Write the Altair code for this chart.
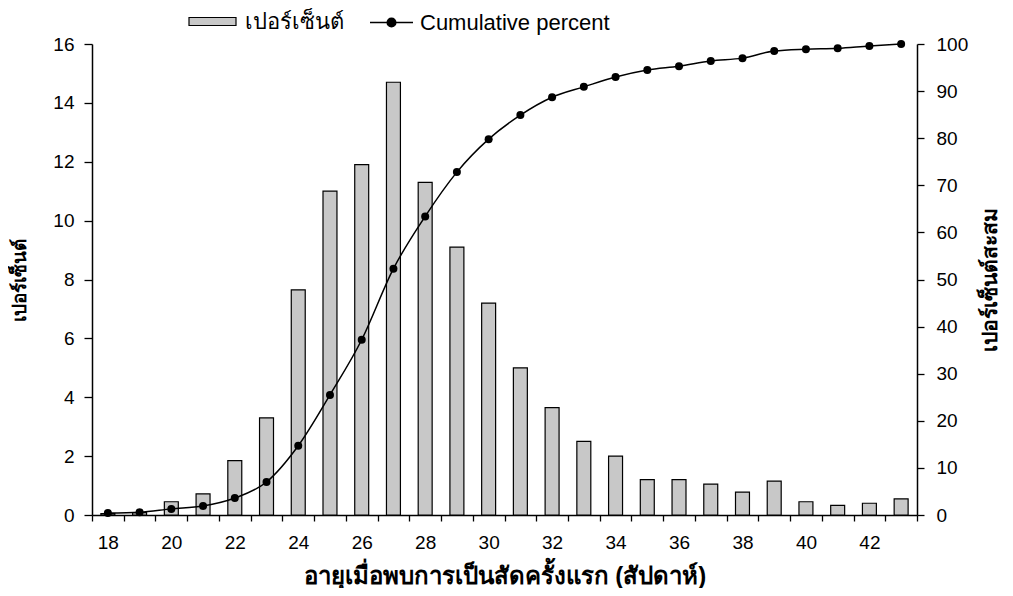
import altair as alt
import pandas as pd

ages = list(range(18, 44))
percent = [0.05, 0.08, 0.45, 0.72, 1.85, 3.3, 7.65, 11.0, 11.9, 14.7, 11.3, 9.1, 7.2, 5.0,
           3.65, 2.5, 2.0, 1.2, 1.2, 1.05, 0.78, 1.15, 0.45, 0.33, 0.4, 0.55]
cumulative = [0.4, 0.6, 1.3, 1.9, 3.6, 7.0, 14.7, 25.5, 37.2, 52.3, 63.4, 72.8, 79.8, 84.9,
              88.7, 90.9, 93.0, 94.5, 95.3, 96.4, 97.0, 98.5, 98.9, 99.1, 99.6, 100.0]
bar_name = "เปอร์เซ็นต์"
line_name = "Cumulative percent"

df = pd.DataFrame({"age": ages, "pct": percent, "cum": cumulative,
                   "s1": bar_name, "s2": line_name})

FONT = "Liberation Sans"
W, H = 825, 471

x_enc = alt.X("age:O", sort="ascending",
              scale=alt.Scale(paddingInner=0, paddingOuter=0),
              axis=alt.Axis(title="อายุเมื่อพบการเป็นสัดครั้งแรก (สัปดาห์)",
                            labelAngle=0, tickBand="extent",
                            labelExpr="datum.value % 2 == 0 ? datum.label : ''",
                            tickSize=6, labelPadding=12, titleFontSize=24,
                            titleX=W / 2, titleY=61, titleBaseline="middle",
                            titleAlign="center"))

bars = alt.Chart(df).mark_bar(stroke="black", strokeWidth=1.2,
                              width=alt.RelativeBandSize(0.44)).encode(
    x=x_enc,
    y=alt.Y("pct:Q", scale=alt.Scale(domain=[0, 16], nice=False),
            axis=alt.Axis(title="เปอร์เซ็นต์", values=list(range(0, 17, 2)),
                          orient="left", tickSize=8, labelPadding=10,
                          titleX=-73, titleY=H / 2, titleAngle=270, titleFontSize=19,
                          titleBaseline="middle", titleAlign="center")),
    fill=alt.Fill("s1:N", scale=alt.Scale(domain=[bar_name], range=["#c8c8c8"]),
                  legend=alt.Legend(title=None, orient="none", legendX=96, legendY=-47,
                                    symbolType="M-1,-0.17H1V0.17H-1Z", symbolSize=2209,
                                    symbolStrokeColor="black", symbolStrokeWidth=1.2,
                                    labelFontSize=22, labelFont=FONT, labelColor="black",
                                    labelLimit=0, padding=0, labelOffset=8)),
)

y_cum = alt.Y("cum:Q", scale=alt.Scale(domain=[0, 100], nice=False),
              axis=alt.Axis(title="เปอร์เซ็นต์สะสม", values=list(range(0, 101, 10)),
                            orient="right", tickSize=7, labelPadding=12,
                            titleX=73, titleY=H / 2, titleAngle=270, titleFontSize=21,
                            titleBaseline="middle", titleAlign="center"))

base = alt.Chart(df).encode(x=x_enc, y=y_cum)

line = base.mark_line(interpolate="monotone", strokeWidth=1.5).encode(
    stroke=alt.Stroke("s2:N", scale=alt.Scale(domain=[line_name], range=["black"]),
                      legend=alt.Legend(title=None, orient="none", legendX=277, legendY=-44,
                                        symbolType="M-1,0H1M0.2,0A0.2,0.2,0,1,1,-0.2,0A0.2,0.2,0,1,1,0.2,0Z",
                                        symbolSize=1849, symbolFillColor="black",
                                        symbolStrokeWidth=1.5,
                                        labelFontSize=22, labelFont=FONT, labelColor="black",
                                        labelLimit=0, padding=0, labelOffset=6)),
)

points = base.mark_point(filled=True, color="black", size=64, opacity=1)

right = alt.layer(line, points)

chart = alt.layer(bars, right).resolve_scale(y="independent").properties(
    width=W, height=H,
    background="white",
    autosize=alt.AutoSizeParams(type="none"),
    padding={"left": 84, "top": 36, "right": 88, "bottom": 73},
).configure_view(stroke=None).configure_axis(
    labelFont=FONT, labelFontSize=19, labelColor="black",
    titleFont=FONT, titleFontSize=20, titleFontWeight="bold", titleColor="black",
    domainColor="black", domainWidth=1.5, tickColor="black", tickWidth=1.3,
    grid=False,
)

chart.save("out.html", embed_options={"renderer": "svg", "actions": False})
